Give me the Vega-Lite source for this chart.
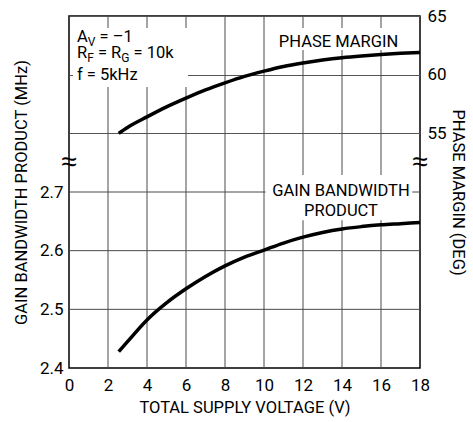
{
  "$schema": "https://vega.github.io/schema/vega-lite/v6.json",
  "width": 351,
  "height": 352,
  "autosize": {"type": "none"},
  "padding": {"left": 69, "top": 16, "right": 53, "bottom": 54},
  "background": "white",
  "title": {
    "text": ["Gain Bandwidth and", "Phase Margin vs Supply Voltage"],
    "font": "Roboto",
    "fontWeight": "bold",
    "fontSize": 23,
    "frame": "group",
    "anchor": "middle",
    "dx": -14,
    "offset": 10,
    "color": "black"
  },
  "config": {
    "view": {"stroke": "black", "strokeWidth": 1.5},
    "axis": {
      "labelFont": "Roboto",
      "titleFont": "Roboto",
      "labelFontSize": 17,
      "titleFontSize": 16.5,
      "titleFontWeight": "normal",
      "labelColor": "black",
      "titleColor": "black",
      "gridColor": "#555555",
      "gridWidth": 1,
      "domain": false,
      "ticks": false,
      "tickSize": 0,
      "labelOverlap": false
    },
    "text": {"font": "Roboto", "color": "black"}
  },
  "datasets": {
    "gbw": [
      {"v": 2.55, "g": 2.428}, {"v": 3, "g": 2.445}, {"v": 4, "g": 2.482}, {"v": 5, "g": 2.511},
      {"v": 6, "g": 2.535}, {"v": 7, "g": 2.556}, {"v": 8, "g": 2.574}, {"v": 9, "g": 2.589},
      {"v": 10, "g": 2.601}, {"v": 11, "g": 2.613}, {"v": 12, "g": 2.623}, {"v": 13, "g": 2.631},
      {"v": 14, "g": 2.637}, {"v": 15, "g": 2.641}, {"v": 16, "g": 2.644}, {"v": 17, "g": 2.646},
      {"v": 18, "g": 2.648}
    ],
    "pm": [
      {"v": 2.55, "p": 55.0}, {"v": 3, "p": 55.5}, {"v": 4, "p": 56.4}, {"v": 5, "p": 57.25},
      {"v": 6, "p": 58.0}, {"v": 7, "p": 58.7}, {"v": 8, "p": 59.3}, {"v": 9, "p": 59.85},
      {"v": 10, "p": 60.3}, {"v": 11, "p": 60.7}, {"v": 12, "p": 61.0}, {"v": 13, "p": 61.25},
      {"v": 14, "p": 61.45}, {"v": 15, "p": 61.6}, {"v": 16, "p": 61.72}, {"v": 17, "p": 61.82},
      {"v": 18, "p": 61.9}
    ],
    "vgrid": [
      {"v": 2}, {"v": 4}, {"v": 6}, {"v": 8}, {"v": 10}, {"v": 12}, {"v": 14}, {"v": 16}
    ],
    "hgrid": [
      {"g": 2.5}, {"g": 2.6}, {"g": 2.7}
    ],
    "boxes": [
      {"v": 0.205, "v2": 6.1, "g": 2.879, "g2": 2.9795},
      {"v": 10.56, "v2": 17.08, "g": 2.942, "g2": 2.9795},
      {"v": 10.08, "v2": 17.6, "g": 2.652, "g2": 2.729}
    ],
    "labels": [
      {"v": 13.82, "g": 2.947, "t": "PHASE MARGIN"},
      {"v": 13.95, "g": 2.693, "t": "GAIN BANDWIDTH"},
      {"v": 13.95, "g": 2.659, "t": "PRODUCT"}
    ],
    "cond": [
      {"v": 0.41, "g": 2.9557, "t": "A"},
      {"v": 1.564, "g": 2.9557, "t": "= –1"},
      {"v": 0.41, "g": 2.9284, "t": "R"},
      {"v": 1.482, "g": 2.9284, "t": "= R"},
      {"v": 3.313, "g": 2.9284, "t": "= 10k"},
      {"v": 0.41, "g": 2.8909, "t": "f = 5kHz"}
    ],
    "subs": [
      {"v": 0.959, "g": 2.9489, "t": "V"},
      {"v": 0.933, "g": 2.9216, "t": "F"},
      {"v": 2.682, "g": 2.9216, "t": "G"}
    ],
    "breaks": [
      {"v": 0, "g": 2.75, "t": "≈"},
      {"v": 18, "g": 2.75, "t": "≈"}
    ]
  },
  "layer": [
    {
      "layer": [
        {
          "data": {"name": "vgrid"},
          "mark": {"type": "rule", "stroke": "#4a4a4a", "strokeWidth": 1},
          "encoding": {
            "x": {
              "field": "v", "type": "quantitative",
              "scale": {"domain": [0, 18], "nice": false},
              "axis": {"values": [0, 2, 4, 6, 8, 10, 12, 14, 16, 18], "grid": false, "labelFlush": false, "labelOverlap": false, "labelPadding": 9, "titlePadding": 6, "title": "TOTAL SUPPLY VOLTAGE (V)"}
            }
          }
        },
        {
          "data": {"name": "hgrid"},
          "mark": {"type": "rule", "stroke": "#4a4a4a", "strokeWidth": 1},
          "encoding": {
            "y": {
              "field": "g", "type": "quantitative",
              "scale": {"domain": [2.4, 3.0], "nice": false, "zero": false},
              "axis": {"orient": "left", "values": [2.4, 2.5, 2.6, 2.7], "format": ".1f", "grid": false, "labelOverlap": false, "labelPadding": 6, "titlePadding": 10, "title": "GAIN BANDWIDTH PRODUCT (MHz)"}
            }
          }
        },
        {
          "data": {"name": "boxes"},
          "mark": {"type": "rect", "fill": "white", "stroke": null},
          "encoding": {
            "x": {
              "field": "v", "type": "quantitative",
              "scale": {"domain": [0, 18], "nice": false},
              "axis": {"values": [0, 2, 4, 6, 8, 10, 12, 14, 16, 18], "grid": false, "labelFlush": false, "labelOverlap": false, "labelPadding": 9, "titlePadding": 6, "title": "TOTAL SUPPLY VOLTAGE (V)"}
            },
            "x2": {"field": "v2"},
            "y": {
              "field": "g", "type": "quantitative",
              "scale": {"domain": [2.4, 3.0], "nice": false, "zero": false},
              "axis": {"orient": "left", "values": [2.4, 2.5, 2.6, 2.7], "format": ".1f", "grid": false, "labelOverlap": false, "labelPadding": 6, "titlePadding": 10, "title": "GAIN BANDWIDTH PRODUCT (MHz)"}
            },
            "y2": {"field": "g2"}
          }
        },
        {
          "data": {"name": "labels"},
          "mark": {"type": "text", "fontSize": 16.5, "align": "center", "baseline": "alphabetic"},
          "encoding": {
            "x": {
              "field": "v", "type": "quantitative",
              "scale": {"domain": [0, 18], "nice": false},
              "axis": {"values": [0, 2, 4, 6, 8, 10, 12, 14, 16, 18], "grid": false, "labelFlush": false, "labelOverlap": false, "labelPadding": 9, "titlePadding": 6, "title": "TOTAL SUPPLY VOLTAGE (V)"}
            },
            "y": {
              "field": "g", "type": "quantitative",
              "scale": {"domain": [2.4, 3.0], "nice": false, "zero": false},
              "axis": {"orient": "left", "values": [2.4, 2.5, 2.6, 2.7], "format": ".1f", "grid": false, "labelOverlap": false, "labelPadding": 6, "titlePadding": 10, "title": "GAIN BANDWIDTH PRODUCT (MHz)"}
            },
            "text": {"field": "t"}
          }
        },
        {
          "data": {"name": "cond"},
          "mark": {"type": "text", "fontSize": 16.5, "align": "left", "baseline": "alphabetic"},
          "encoding": {
            "x": {
              "field": "v", "type": "quantitative",
              "scale": {"domain": [0, 18], "nice": false},
              "axis": {"values": [0, 2, 4, 6, 8, 10, 12, 14, 16, 18], "grid": false, "labelFlush": false, "labelOverlap": false, "labelPadding": 9, "titlePadding": 6, "title": "TOTAL SUPPLY VOLTAGE (V)"}
            },
            "y": {
              "field": "g", "type": "quantitative",
              "scale": {"domain": [2.4, 3.0], "nice": false, "zero": false},
              "axis": {"orient": "left", "values": [2.4, 2.5, 2.6, 2.7], "format": ".1f", "grid": false, "labelOverlap": false, "labelPadding": 6, "titlePadding": 10, "title": "GAIN BANDWIDTH PRODUCT (MHz)"}
            },
            "text": {"field": "t"}
          }
        },
        {
          "data": {"name": "subs"},
          "mark": {"type": "text", "fontSize": 12, "align": "left", "baseline": "alphabetic"},
          "encoding": {
            "x": {
              "field": "v", "type": "quantitative",
              "scale": {"domain": [0, 18], "nice": false},
              "axis": {"values": [0, 2, 4, 6, 8, 10, 12, 14, 16, 18], "grid": false, "labelFlush": false, "labelOverlap": false, "labelPadding": 9, "titlePadding": 6, "title": "TOTAL SUPPLY VOLTAGE (V)"}
            },
            "y": {
              "field": "g", "type": "quantitative",
              "scale": {"domain": [2.4, 3.0], "nice": false, "zero": false},
              "axis": {"orient": "left", "values": [2.4, 2.5, 2.6, 2.7], "format": ".1f", "grid": false, "labelOverlap": false, "labelPadding": 6, "titlePadding": 10, "title": "GAIN BANDWIDTH PRODUCT (MHz)"}
            },
            "text": {"field": "t"}
          }
        },
        {
          "data": {"name": "breaks"},
          "mark": {"type": "text", "fontSize": 28, "font": "Liberation Sans", "align": "center", "baseline": "middle"},
          "encoding": {
            "x": {
              "field": "v", "type": "quantitative",
              "scale": {"domain": [0, 18], "nice": false},
              "axis": {"values": [0, 2, 4, 6, 8, 10, 12, 14, 16, 18], "grid": false, "labelFlush": false, "labelOverlap": false, "labelPadding": 9, "titlePadding": 6, "title": "TOTAL SUPPLY VOLTAGE (V)"}
            },
            "y": {
              "field": "g", "type": "quantitative",
              "scale": {"domain": [2.4, 3.0], "nice": false, "zero": false},
              "axis": {"orient": "left", "values": [2.4, 2.5, 2.6, 2.7], "format": ".1f", "grid": false, "labelOverlap": false, "labelPadding": 6, "titlePadding": 10, "title": "GAIN BANDWIDTH PRODUCT (MHz)"}
            },
            "text": {"field": "t"}
          }
        },
        {
          "data": {"name": "gbw"},
          "mark": {"type": "line", "stroke": "black", "strokeWidth": 3.5, "interpolate": "monotone"},
          "encoding": {
            "x": {
              "field": "v", "type": "quantitative",
              "scale": {"domain": [0, 18], "nice": false},
              "axis": {"values": [0, 2, 4, 6, 8, 10, 12, 14, 16, 18], "grid": false, "labelFlush": false, "labelOverlap": false, "labelPadding": 9, "titlePadding": 6, "title": "TOTAL SUPPLY VOLTAGE (V)"}
            },
            "y": {
              "field": "g", "type": "quantitative",
              "scale": {"domain": [2.4, 3.0], "nice": false, "zero": false},
              "axis": {"orient": "left", "values": [2.4, 2.5, 2.6, 2.7], "format": ".1f", "grid": false, "labelOverlap": false, "labelPadding": 6, "titlePadding": 10, "title": "GAIN BANDWIDTH PRODUCT (MHz)"}
            }
          }
        }
      ]
    },
    {
      "data": {"name": "pm"},
      "mark": {"type": "line", "stroke": "black", "strokeWidth": 3.5, "interpolate": "monotone"},
      "encoding": {
        "x": {
          "field": "v", "type": "quantitative",
          "scale": {"domain": [0, 18], "nice": false},
          "axis": {"values": [0, 2, 4, 6, 8, 10, 12, 14, 16, 18], "grid": false, "labelFlush": false, "labelOverlap": false, "labelPadding": 9, "titlePadding": 6, "title": "TOTAL SUPPLY VOLTAGE (V)"}
        },
        "y": {
          "field": "p", "type": "quantitative",
          "scale": {"domain": [35, 65], "nice": false, "zero": false},
          "axis": {
            "orient": "right",
            "values": [55, 60, 65],
            "grid": true,
            "labelOverlap": false,
            "labelPadding": 7,
            "titlePadding": 3,
            "title": "PHASE MARGIN (DEG)"
          }
        }
      }
    }
  ],
  "resolve": {"scale": {"y": "independent"}}
}
